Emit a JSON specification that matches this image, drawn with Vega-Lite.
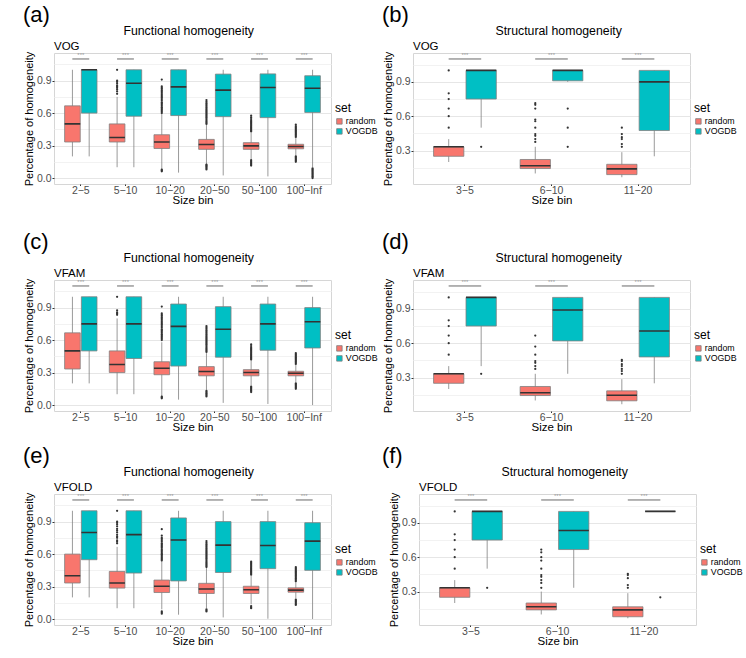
{
"$schema": "https://vega.github.io/schema/vega-lite/v6.json",
"padding": {"left": 22, "top": 3, "right": 0, "bottom": 0},
"background": "white",
"config": {
  "font": "Liberation Sans",
  "view": {"stroke": "#d6d6d6"},
  "title": {"fontWeight": "normal", "color": "#000000", "font": "Liberation Sans"},
  "axis": {"domain": false, "labelFontSize": 10.5, "labelColor": "#4d4d4d", "tickColor": "#333333", "tickSize": 2, "titleFontSize": 11.5, "titleFontWeight": "normal", "titleColor": "#000000", "gridColor": "#e6e6e6", "labelPadding": 1},
  "axisY": {"titlePadding": 2, "labelOverlap": false, "titleFontSize": 11},
  "axisX": {"titlePadding": -1, "labelAngle": 0, "labelPadding": -0.5, "tickSize": 1.5},
  "legend": {"titleFontSize": 12, "titleFontWeight": "normal", "labelFontSize": 8.8, "symbolType": "square", "symbolSize": 30, "rowPadding": 0, "titlePadding": 2, "symbolStrokeColor": "#7f7f7f", "symbolStrokeWidth": 0.8, "labelOffset": 2}
},
"datasets": {
"box": [
{"p":"a","bin":"2−5","set":"random","lo":0.2,"q1":0.333,"med":0.5,"q3":0.667,"hi":1.0},
{"p":"a","bin":"2−5","set":"VOGDB","lo":0.2,"q1":0.6,"med":1.0,"q3":1.0,"hi":1.0},
{"p":"a","bin":"5−10","set":"random","lo":0.1,"q1":0.333,"med":0.375,"q3":0.5,"hi":0.75},
{"p":"a","bin":"5−10","set":"VOGDB","lo":0.1,"q1":0.571,"med":0.875,"q3":1.0,"hi":1.0},
{"p":"a","bin":"10−20","set":"random","lo":0.083,"q1":0.273,"med":0.333,"q3":0.4,"hi":0.59},
{"p":"a","bin":"10−20","set":"VOGDB","lo":0.05,"q1":0.577,"med":0.842,"q3":1.0,"hi":1.0},
{"p":"a","bin":"20−50","set":"random","lo":0.13,"q1":0.265,"med":0.31,"q3":0.357,"hi":0.49},
{"p":"a","bin":"20−50","set":"VOGDB","lo":0.024,"q1":0.567,"med":0.812,"q3":0.96,"hi":1.0},
{"p":"a","bin":"50−100","set":"random","lo":0.172,"q1":0.265,"med":0.297,"q3":0.327,"hi":0.42},
{"p":"a","bin":"50−100","set":"VOGDB","lo":0.015,"q1":0.558,"med":0.836,"q3":0.962,"hi":1.0},
{"p":"a","bin":"100−Inf","set":"random","lo":0.207,"q1":0.27,"med":0.291,"q3":0.312,"hi":0.375},
{"p":"a","bin":"100−Inf","set":"VOGDB","lo":0.1,"q1":0.606,"med":0.83,"q3":0.945,"hi":1.0},
{"p":"c","bin":"2−5","set":"random","lo":0.2,"q1":0.333,"med":0.5,"q3":0.667,"hi":1.0},
{"p":"c","bin":"2−5","set":"VOGDB","lo":0.2,"q1":0.5,"med":0.75,"q3":1.0,"hi":1.0},
{"p":"c","bin":"5−10","set":"random","lo":0.1,"q1":0.3,"med":0.375,"q3":0.5,"hi":0.8},
{"p":"c","bin":"5−10","set":"VOGDB","lo":0.1,"q1":0.43,"med":0.75,"q3":1.0,"hi":1.0},
{"p":"c","bin":"10−20","set":"random","lo":0.083,"q1":0.28,"med":0.34,"q3":0.4,"hi":0.58},
{"p":"c","bin":"10−20","set":"VOGDB","lo":0.05,"q1":0.36,"med":0.727,"q3":0.933,"hi":1.0},
{"p":"c","bin":"20−50","set":"random","lo":0.14,"q1":0.27,"med":0.31,"q3":0.355,"hi":0.48},
{"p":"c","bin":"20−50","set":"VOGDB","lo":0.02,"q1":0.442,"med":0.7,"q3":0.909,"hi":1.0},
{"p":"c","bin":"50−100","set":"random","lo":0.18,"q1":0.27,"med":0.3,"q3":0.327,"hi":0.41},
{"p":"c","bin":"50−100","set":"VOGDB","lo":0.01,"q1":0.506,"med":0.75,"q3":0.933,"hi":1.0},
{"p":"c","bin":"100−Inf","set":"random","lo":0.21,"q1":0.27,"med":0.294,"q3":0.312,"hi":0.375},
{"p":"c","bin":"100−Inf","set":"VOGDB","lo":0.0,"q1":0.527,"med":0.77,"q3":0.9,"hi":1.0},
{"p":"e","bin":"2−5","set":"random","lo":0.2,"q1":0.333,"med":0.4,"q3":0.6,"hi":1.0},
{"p":"e","bin":"2−5","set":"VOGDB","lo":0.2,"q1":0.548,"med":0.8,"q3":1.0,"hi":1.0},
{"p":"e","bin":"5−10","set":"random","lo":0.1,"q1":0.286,"med":0.333,"q3":0.44,"hi":0.667},
{"p":"e","bin":"5−10","set":"VOGDB","lo":0.1,"q1":0.425,"med":0.78,"q3":1.0,"hi":1.0},
{"p":"e","bin":"10−20","set":"random","lo":0.09,"q1":0.245,"med":0.303,"q3":0.36,"hi":0.53},
{"p":"e","bin":"10−20","set":"VOGDB","lo":0.04,"q1":0.352,"med":0.73,"q3":0.934,"hi":1.0},
{"p":"e","bin":"20−50","set":"random","lo":0.1,"q1":0.236,"med":0.277,"q3":0.33,"hi":0.47},
{"p":"e","bin":"20−50","set":"VOGDB","lo":0.015,"q1":0.43,"med":0.683,"q3":0.9,"hi":1.0},
{"p":"e","bin":"50−100","set":"random","lo":0.136,"q1":0.236,"med":0.27,"q3":0.303,"hi":0.4},
{"p":"e","bin":"50−100","set":"VOGDB","lo":0.003,"q1":0.465,"med":0.68,"q3":0.9,"hi":1.0},
{"p":"e","bin":"100−Inf","set":"random","lo":0.19,"q1":0.248,"med":0.267,"q3":0.288,"hi":0.345},
{"p":"e","bin":"100−Inf","set":"VOGDB","lo":0.0,"q1":0.45,"med":0.72,"q3":0.89,"hi":1.0},
{"p":"b","bin":"3−5","set":"random","lo":0.2,"q1":0.25,"med":0.333,"q3":0.333,"hi":0.4},
{"p":"b","bin":"3−5","set":"VOGDB","lo":0.5,"q1":0.75,"med":1.0,"q3":1.0,"hi":1.0},
{"p":"b","bin":"6−10","set":"random","lo":0.1,"q1":0.143,"med":0.167,"q3":0.222,"hi":0.333},
{"p":"b","bin":"6−10","set":"VOGDB","lo":0.9,"q1":0.909,"med":1.0,"q3":1.0,"hi":1.0},
{"p":"b","bin":"11−20","set":"random","lo":0.067,"q1":0.09,"med":0.14,"q3":0.18,"hi":0.286},
{"p":"b","bin":"11−20","set":"VOGDB","lo":0.25,"q1":0.475,"med":0.9,"q3":1.0,"hi":1.0},
{"p":"d","bin":"3−5","set":"random","lo":0.2,"q1":0.25,"med":0.333,"q3":0.333,"hi":0.4},
{"p":"d","bin":"3−5","set":"VOGDB","lo":0.4,"q1":0.75,"med":1.0,"q3":1.0,"hi":1.0},
{"p":"d","bin":"6−10","set":"random","lo":0.1,"q1":0.143,"med":0.167,"q3":0.222,"hi":0.333},
{"p":"d","bin":"6−10","set":"VOGDB","lo":0.333,"q1":0.62,"med":0.89,"q3":1.0,"hi":1.0},
{"p":"d","bin":"11−20","set":"random","lo":0.067,"q1":0.097,"med":0.146,"q3":0.184,"hi":0.286},
{"p":"d","bin":"11−20","set":"VOGDB","lo":0.25,"q1":0.48,"med":0.706,"q3":1.0,"hi":1.0},
{"p":"f","bin":"3−5","set":"random","lo":0.2,"q1":0.25,"med":0.333,"q3":0.333,"hi":0.4},
{"p":"f","bin":"3−5","set":"VOGDB","lo":0.5,"q1":0.75,"med":1.0,"q3":1.0,"hi":1.0},
{"p":"f","bin":"6−10","set":"random","lo":0.1,"q1":0.14,"med":0.167,"q3":0.2,"hi":0.3},
{"p":"f","bin":"6−10","set":"VOGDB","lo":0.333,"q1":0.667,"med":0.833,"q3":1.0,"hi":1.0},
{"p":"f","bin":"11−20","set":"random","lo":0.067,"q1":0.08,"med":0.14,"q3":0.167,"hi":0.286},
{"p":"f","bin":"11−20","set":"VOGDB","lo":1.0,"q1":1.0,"med":1.0,"q3":1.0,"hi":1.0}
],
"out": [
{"p":"a","bin":"5−10","set":"random","v":[0.778,0.8,0.818,0.833,0.846,0.857,0.875,0.889,0.9,1.0]},
{"p":"a","bin":"10−20","set":"random","v":[0.062,0.07,0.077,0.6,0.612,0.625,0.636,0.647,0.655,0.667,0.68,0.692,0.7,0.714,0.727,0.74,0.75,0.762,0.773,0.786,0.8,0.812,0.824,0.833,0.846,0.91]},
{"p":"a","bin":"20−50","set":"random","v":[0.08,0.09,0.1,0.11,0.118,0.125,0.5,0.511,0.522,0.533,0.545,0.556,0.567,0.578,0.59,0.6,0.611,0.622,0.633,0.645,0.656,0.667,0.68,0.692,0.705,0.72]},
{"p":"a","bin":"50−100","set":"random","v":[0.115,0.125,0.135,0.145,0.155,0.165,0.43,0.44,0.45,0.46,0.47,0.48,0.49,0.5,0.51,0.52,0.53,0.545,0.56,0.576]},
{"p":"a","bin":"100−Inf","set":"random","v":[0.15,0.16,0.17,0.18,0.19,0.2,0.38,0.39,0.4,0.41,0.42,0.43,0.44,0.45,0.46,0.47,0.48,0.494]},
{"p":"a","bin":"100−Inf","set":"VOGDB","v":[0.0,0.01,0.02,0.03,0.04,0.05,0.06,0.07,0.08,0.09]},
{"p":"c","bin":"5−10","set":"random","v":[0.833,0.846,0.857,0.875,1.0]},
{"p":"c","bin":"10−20","set":"random","v":[0.062,0.07,0.077,0.6,0.612,0.625,0.636,0.647,0.655,0.667,0.68,0.692,0.7,0.714,0.727,0.74,0.75,0.762,0.773,0.786,0.8,0.812,0.824,0.833,0.846,0.91]},
{"p":"c","bin":"20−50","set":"random","v":[0.08,0.09,0.1,0.11,0.12,0.13,0.49,0.5,0.511,0.522,0.533,0.545,0.556,0.567,0.578,0.59,0.6,0.611,0.622,0.633,0.645,0.656,0.667,0.68,0.692,0.705,0.718,0.73]},
{"p":"c","bin":"50−100","set":"random","v":[0.12,0.13,0.14,0.15,0.16,0.17,0.42,0.43,0.44,0.45,0.46,0.47,0.48,0.49,0.5,0.51,0.52,0.53,0.545,0.56]},
{"p":"c","bin":"100−Inf","set":"random","v":[0.15,0.16,0.17,0.18,0.19,0.2,0.38,0.39,0.4,0.41,0.42,0.43,0.44,0.45,0.46,0.47,0.48]},
{"p":"e","bin":"5−10","set":"random","v":[0.7,0.714,0.727,0.75,0.762,0.778,0.8,0.818,0.833,0.857,0.875,0.889,0.9,1.0]},
{"p":"e","bin":"10−20","set":"random","v":[0.05,0.06,0.07,0.54,0.55,0.56,0.571,0.583,0.594,0.6,0.611,0.625,0.636,0.647,0.66,0.67,0.68,0.692,0.7,0.714,0.727,0.74,0.75,0.77,0.83]},
{"p":"e","bin":"20−50","set":"random","v":[0.07,0.08,0.09,0.48,0.49,0.5,0.511,0.522,0.533,0.545,0.556,0.567,0.578,0.59,0.6,0.611,0.622,0.633,0.645,0.656,0.667,0.68,0.692,0.705,0.72]},
{"p":"e","bin":"50−100","set":"random","v":[0.1,0.11,0.12,0.41,0.42,0.43,0.44,0.45,0.46,0.47,0.48,0.49,0.5,0.51,0.52,0.53]},
{"p":"e","bin":"100−Inf","set":"random","v":[0.13,0.14,0.15,0.16,0.17,0.18,0.35,0.36,0.37,0.38,0.39,0.4,0.41,0.42,0.43,0.44,0.45,0.46,0.47,0.48]},
{"p":"b","bin":"3−5","set":"random","v":[0.5,0.6,0.667,0.75,0.8,1.0]},
{"p":"b","bin":"3−5","set":"VOGDB","v":[0.333]},
{"p":"b","bin":"6−10","set":"random","v":[0.375,0.4,0.429,0.444,0.5,0.556,0.571,0.667,0.7,0.714]},
{"p":"b","bin":"6−10","set":"VOGDB","v":[0.333,0.5,0.667]},
{"p":"b","bin":"11−20","set":"random","v":[0.333,0.357,0.4,0.417,0.444,0.5]},
{"p":"d","bin":"3−5","set":"random","v":[0.5,0.6,0.667,0.75,0.8,1.0]},
{"p":"d","bin":"3−5","set":"VOGDB","v":[0.333]},
{"p":"d","bin":"6−10","set":"random","v":[0.375,0.4,0.429,0.444,0.5,0.571,0.667]},
{"p":"d","bin":"11−20","set":"random","v":[0.333,0.357,0.375,0.4,0.417,0.444,0.455]},
{"p":"f","bin":"3−5","set":"random","v":[0.5,0.6,0.667,0.75,0.8,1.0]},
{"p":"f","bin":"3−5","set":"VOGDB","v":[0.333]},
{"p":"f","bin":"6−10","set":"random","v":[0.333,0.375,0.4,0.429,0.444,0.5,0.571,0.6,0.643,0.667]},
{"p":"f","bin":"11−20","set":"random","v":[0.333,0.357,0.417,0.444,0.455]},
{"p":"f","bin":"11−20","set":"VOGDB","v":[0.25]}
]
},
"spacing": 23,
"resolve": {"scale": {"color": "independent", "xOffset": "independent"}, "legend": {"color": "independent"}},
"vconcat": [
{
 "spacing": 2,
 "resolve": {"scale": {"color": "independent", "xOffset": "independent"}, "legend": {"color": "independent"}},
 "hconcat": [
  {"title": {"text": "(a)", "anchor": "start", "fontSize": 22, "offset": -2},
   "resolve": {"scale": {"color": "independent", "xOffset": "independent"}, "legend": {"color": "independent"}},
   "vconcat": [{
    "title": {"text": "Functional homogeneity", "anchor": "middle", "fontSize": 12.3, "dx": -12, "offset": 3},
    "resolve": {"scale": {"color": "independent", "xOffset": "independent"}, "legend": {"color": "independent"}},
    "vconcat": [{
     "title": {"text": "VOG", "anchor": "start", "frame": "group", "fontSize": 11.5, "offset": -1},
     "width": 277, "height": 131,
     "resolve": {"axis": {"y": "independent"}},
     "encoding": {"x": {"field": "bin", "type": "nominal", "title": "Size bin", "scale": {"domain": ["2−5","5−10","10−20","20−50","50−100","100−Inf"], "paddingInner": 0, "paddingOuter": 0.1}, "axis": {"bandPosition": 0.5}}},
     "layer": [
      {"data": {"name": "box"}, "transform": [{"filter": "datum.p=='a'"}], "mark": {"type": "rule", "color": "#808080", "strokeWidth": 0.8},
       "encoding": {"xOffset": {"field": "set", "type": "nominal", "scale": {"domain": ["random","VOGDB"], "paddingInner": 0.067, "paddingOuter": 0.367}},
        "y": {"field": "lo", "type": "quantitative", "title": "Percentage of homogeneity", "scale": {"domain": [-0.055, 1.155], "nice": false, "zero": false},
         "axis": {"values": [0, 0.3, 0.6, 0.9], "tickCount": 20, "labelOverlap": false, "labelSeparation": -1000, "labelBound": false, "format": ".1f", "gridColor": "#e6e6e6"}},
        "y2": {"field": "hi"}}},
      {"data": {"name": "box"}, "transform": [{"filter": "datum.p=='a'"}], "mark": {"type": "tick", "opacity": 0},
       "encoding": {"y": {"field": "med", "type": "quantitative", "axis": {"orient": "right", "values": [0.15, 0.45, 0.75, 1.05], "tickCount": 20, "labels": false, "ticks": false, "domain": false, "title": null, "grid": true, "gridColor": "#f2f2f2"}}}},
      {"data": {"name": "box"}, "transform": [{"filter": "datum.p=='a'"}], "mark": {"type": "bar", "stroke": "#808080", "strokeWidth": 0.8},
       "encoding": {"xOffset": {"field": "set", "type": "nominal"}, "y": {"field": "q1", "type": "quantitative", "axis": null}, "y2": {"field": "q3"},
        "color": {"field": "set", "type": "nominal", "title": "set", "scale": {"domain": ["random","VOGDB"], "range": ["#F8766D","#00BFC4"]}, "legend": {"orient": "none", "legendX": 281, "legendY": 50}}}},
      {"data": {"name": "box"}, "transform": [{"filter": "datum.p=='a'"}], "mark": {"type": "bar", "fillOpacity": 0, "stroke": "#333333", "strokeWidth": 1.6},
       "encoding": {"xOffset": {"field": "set", "type": "nominal"}, "y": {"field": "med", "type": "quantitative", "axis": null}, "y2": {"field": "med"}}},
      {"data": {"name": "out"}, "transform": [{"filter": "datum.p=='a'"}, {"flatten": ["v"]}], "mark": {"type": "point", "filled": true, "size": 5, "color": "#333333", "opacity": 1},
       "encoding": {"xOffset": {"field": "set", "type": "nominal"}, "y": {"field": "v", "type": "quantitative", "axis": null}}},
      {"data": {"name": "box"}, "transform": [{"filter": "datum.p=='a' && datum.set=='random'"}], "mark": {"type": "bar", "width": {"band": 0.375}, "fillOpacity": 0, "stroke": "#9a9a9a", "strokeWidth": 1},
       "encoding": {"y": {"datum": 1.1, "axis": null}, "y2": {"datum": 1.1}}},
      {"data": {"name": "box"}, "transform": [{"filter": "datum.p=='a' && datum.set=='random'"}], "mark": {"type": "text", "text": "***", "fontSize": 6, "color": "#9a9a9a", "baseline": "bottom", "dy": -1},
       "encoding": {"y": {"datum": 1.1, "axis": null}}}
     ]
    }]
   }]
  },
  {"title": {"text": "(b)", "anchor": "start", "fontSize": 22, "offset": -2},
   "resolve": {"scale": {"color": "independent", "xOffset": "independent"}, "legend": {"color": "independent"}},
   "vconcat": [{
    "title": {"text": "Structural homogeneity", "anchor": "middle", "fontSize": 12.3, "dx": -1, "offset": 3},
    "resolve": {"scale": {"color": "independent", "xOffset": "independent"}, "legend": {"color": "independent"}},
    "vconcat": [{
     "title": {"text": "VOG", "anchor": "start", "frame": "group", "fontSize": 11.5, "offset": -1},
     "width": 277, "height": 131,
     "resolve": {"axis": {"y": "independent"}},
     "encoding": {"x": {"field": "bin", "type": "nominal", "title": "Size bin", "scale": {"domain": ["3−5","6−10","11−20"], "paddingInner": 0, "paddingOuter": 0.1}, "axis": {"bandPosition": 0.5}}},
     "layer": [
      {"data": {"name": "box"}, "transform": [{"filter": "datum.p=='b'"}], "mark": {"type": "rule", "color": "#808080", "strokeWidth": 0.8},
       "encoding": {"xOffset": {"field": "set", "type": "nominal", "scale": {"domain": ["random","VOGDB"], "paddingInner": 0.067, "paddingOuter": 0.367}},
        "y": {"field": "lo", "type": "quantitative", "title": "Percentage of homogeneity", "scale": {"domain": [0.008, 1.152], "nice": false, "zero": false},
         "axis": {"values": [0.3, 0.6, 0.9], "tickCount": 20, "labelOverlap": false, "labelSeparation": -1000, "labelBound": false, "format": ".1f", "gridColor": "#e6e6e6"}},
        "y2": {"field": "hi"}}},
      {"data": {"name": "box"}, "transform": [{"filter": "datum.p=='b'"}], "mark": {"type": "tick", "opacity": 0},
       "encoding": {"y": {"field": "med", "type": "quantitative", "axis": {"orient": "right", "values": [0.15, 0.45, 0.75, 1.05], "tickCount": 20, "labels": false, "ticks": false, "domain": false, "title": null, "grid": true, "gridColor": "#f2f2f2"}}}},
      {"data": {"name": "box"}, "transform": [{"filter": "datum.p=='b'"}], "mark": {"type": "bar", "stroke": "#808080", "strokeWidth": 0.8},
       "encoding": {"xOffset": {"field": "set", "type": "nominal"}, "y": {"field": "q1", "type": "quantitative", "axis": null}, "y2": {"field": "q3"},
        "color": {"field": "set", "type": "nominal", "title": "set", "scale": {"domain": ["random","VOGDB"], "range": ["#F8766D","#00BFC4"]}, "legend": {"orient": "none", "legendX": 281, "legendY": 50}}}},
      {"data": {"name": "box"}, "transform": [{"filter": "datum.p=='b'"}], "mark": {"type": "bar", "fillOpacity": 0, "stroke": "#333333", "strokeWidth": 1.6},
       "encoding": {"xOffset": {"field": "set", "type": "nominal"}, "y": {"field": "med", "type": "quantitative", "axis": null}, "y2": {"field": "med"}}},
      {"data": {"name": "out"}, "transform": [{"filter": "datum.p=='b'"}, {"flatten": ["v"]}], "mark": {"type": "point", "filled": true, "size": 5, "color": "#333333", "opacity": 1},
       "encoding": {"xOffset": {"field": "set", "type": "nominal"}, "y": {"field": "v", "type": "quantitative", "axis": null}}},
      {"data": {"name": "box"}, "transform": [{"filter": "datum.p=='b' && datum.set=='random'"}], "mark": {"type": "bar", "width": {"band": 0.375}, "fillOpacity": 0, "stroke": "#9a9a9a", "strokeWidth": 1},
       "encoding": {"y": {"datum": 1.1, "axis": null}, "y2": {"datum": 1.1}}},
      {"data": {"name": "box"}, "transform": [{"filter": "datum.p=='b' && datum.set=='random'"}], "mark": {"type": "text", "text": "***", "fontSize": 6, "color": "#9a9a9a", "baseline": "bottom", "dy": -1},
       "encoding": {"y": {"datum": 1.1, "axis": null}}}
     ]
    }]
   }]
  }
 ]
},
{
 "spacing": 10,
 "resolve": {"scale": {"color": "independent", "xOffset": "independent"}, "legend": {"color": "independent"}},
 "vconcat": [
 {
 "spacing": 2,
 "resolve": {"scale": {"color": "independent", "xOffset": "independent"}, "legend": {"color": "independent"}},
 "hconcat": [
  {"title": {"text": "(c)", "anchor": "start", "fontSize": 22, "offset": -2},
   "resolve": {"scale": {"color": "independent", "xOffset": "independent"}, "legend": {"color": "independent"}},
   "vconcat": [{
    "title": {"text": "Functional homogeneity", "anchor": "middle", "fontSize": 12.3, "dx": -12, "offset": 3},
    "resolve": {"scale": {"color": "independent", "xOffset": "independent"}, "legend": {"color": "independent"}},
    "vconcat": [{
     "title": {"text": "VFAM", "anchor": "start", "frame": "group", "fontSize": 11.5, "offset": -1},
     "width": 277, "height": 131,
     "resolve": {"axis": {"y": "independent"}},
     "encoding": {"x": {"field": "bin", "type": "nominal", "title": "Size bin", "scale": {"domain": ["2−5","5−10","10−20","20−50","50−100","100−Inf"], "paddingInner": 0, "paddingOuter": 0.1}, "axis": {"bandPosition": 0.5}}},
     "layer": [
      {"data": {"name": "box"}, "transform": [{"filter": "datum.p=='c'"}], "mark": {"type": "rule", "color": "#808080", "strokeWidth": 0.8},
       "encoding": {"xOffset": {"field": "set", "type": "nominal", "scale": {"domain": ["random","VOGDB"], "paddingInner": 0.067, "paddingOuter": 0.367}},
        "y": {"field": "lo", "type": "quantitative", "title": "Percentage of homogeneity", "scale": {"domain": [-0.055, 1.155], "nice": false, "zero": false},
         "axis": {"values": [0, 0.3, 0.6, 0.9], "tickCount": 20, "labelOverlap": false, "labelSeparation": -1000, "labelBound": false, "format": ".1f", "gridColor": "#e6e6e6"}},
        "y2": {"field": "hi"}}},
      {"data": {"name": "box"}, "transform": [{"filter": "datum.p=='c'"}], "mark": {"type": "tick", "opacity": 0},
       "encoding": {"y": {"field": "med", "type": "quantitative", "axis": {"orient": "right", "values": [0.15, 0.45, 0.75, 1.05], "tickCount": 20, "labels": false, "ticks": false, "domain": false, "title": null, "grid": true, "gridColor": "#f2f2f2"}}}},
      {"data": {"name": "box"}, "transform": [{"filter": "datum.p=='c'"}], "mark": {"type": "bar", "stroke": "#808080", "strokeWidth": 0.8},
       "encoding": {"xOffset": {"field": "set", "type": "nominal"}, "y": {"field": "q1", "type": "quantitative", "axis": null}, "y2": {"field": "q3"},
        "color": {"field": "set", "type": "nominal", "title": "set", "scale": {"domain": ["random","VOGDB"], "range": ["#F8766D","#00BFC4"]}, "legend": {"orient": "none", "legendX": 281, "legendY": 50}}}},
      {"data": {"name": "box"}, "transform": [{"filter": "datum.p=='c'"}], "mark": {"type": "bar", "fillOpacity": 0, "stroke": "#333333", "strokeWidth": 1.6},
       "encoding": {"xOffset": {"field": "set", "type": "nominal"}, "y": {"field": "med", "type": "quantitative", "axis": null}, "y2": {"field": "med"}}},
      {"data": {"name": "out"}, "transform": [{"filter": "datum.p=='c'"}, {"flatten": ["v"]}], "mark": {"type": "point", "filled": true, "size": 5, "color": "#333333", "opacity": 1},
       "encoding": {"xOffset": {"field": "set", "type": "nominal"}, "y": {"field": "v", "type": "quantitative", "axis": null}}},
      {"data": {"name": "box"}, "transform": [{"filter": "datum.p=='c' && datum.set=='random'"}], "mark": {"type": "bar", "width": {"band": 0.375}, "fillOpacity": 0, "stroke": "#9a9a9a", "strokeWidth": 1},
       "encoding": {"y": {"datum": 1.1, "axis": null}, "y2": {"datum": 1.1}}},
      {"data": {"name": "box"}, "transform": [{"filter": "datum.p=='c' && datum.set=='random'"}], "mark": {"type": "text", "text": "***", "fontSize": 6, "color": "#9a9a9a", "baseline": "bottom", "dy": -1},
       "encoding": {"y": {"datum": 1.1, "axis": null}}}
     ]
    }]
   }]
  },
  {"title": {"text": "(d)", "anchor": "start", "fontSize": 22, "offset": -2},
   "resolve": {"scale": {"color": "independent", "xOffset": "independent"}, "legend": {"color": "independent"}},
   "vconcat": [{
    "title": {"text": "Structural homogeneity", "anchor": "middle", "fontSize": 12.3, "dx": -1, "offset": 3},
    "resolve": {"scale": {"color": "independent", "xOffset": "independent"}, "legend": {"color": "independent"}},
    "vconcat": [{
     "title": {"text": "VFAM", "anchor": "start", "frame": "group", "fontSize": 11.5, "offset": -1},
     "width": 277, "height": 131,
     "resolve": {"axis": {"y": "independent"}},
     "encoding": {"x": {"field": "bin", "type": "nominal", "title": "Size bin", "scale": {"domain": ["3−5","6−10","11−20"], "paddingInner": 0, "paddingOuter": 0.1}, "axis": {"bandPosition": 0.5}}},
     "layer": [
      {"data": {"name": "box"}, "transform": [{"filter": "datum.p=='d'"}], "mark": {"type": "rule", "color": "#808080", "strokeWidth": 0.8},
       "encoding": {"xOffset": {"field": "set", "type": "nominal", "scale": {"domain": ["random","VOGDB"], "paddingInner": 0.067, "paddingOuter": 0.367}},
        "y": {"field": "lo", "type": "quantitative", "title": "Percentage of homogeneity", "scale": {"domain": [0.008, 1.152], "nice": false, "zero": false},
         "axis": {"values": [0.3, 0.6, 0.9], "tickCount": 20, "labelOverlap": false, "labelSeparation": -1000, "labelBound": false, "format": ".1f", "gridColor": "#e6e6e6"}},
        "y2": {"field": "hi"}}},
      {"data": {"name": "box"}, "transform": [{"filter": "datum.p=='d'"}], "mark": {"type": "tick", "opacity": 0},
       "encoding": {"y": {"field": "med", "type": "quantitative", "axis": {"orient": "right", "values": [0.15, 0.45, 0.75, 1.05], "tickCount": 20, "labels": false, "ticks": false, "domain": false, "title": null, "grid": true, "gridColor": "#f2f2f2"}}}},
      {"data": {"name": "box"}, "transform": [{"filter": "datum.p=='d'"}], "mark": {"type": "bar", "stroke": "#808080", "strokeWidth": 0.8},
       "encoding": {"xOffset": {"field": "set", "type": "nominal"}, "y": {"field": "q1", "type": "quantitative", "axis": null}, "y2": {"field": "q3"},
        "color": {"field": "set", "type": "nominal", "title": "set", "scale": {"domain": ["random","VOGDB"], "range": ["#F8766D","#00BFC4"]}, "legend": {"orient": "none", "legendX": 281, "legendY": 50}}}},
      {"data": {"name": "box"}, "transform": [{"filter": "datum.p=='d'"}], "mark": {"type": "bar", "fillOpacity": 0, "stroke": "#333333", "strokeWidth": 1.6},
       "encoding": {"xOffset": {"field": "set", "type": "nominal"}, "y": {"field": "med", "type": "quantitative", "axis": null}, "y2": {"field": "med"}}},
      {"data": {"name": "out"}, "transform": [{"filter": "datum.p=='d'"}, {"flatten": ["v"]}], "mark": {"type": "point", "filled": true, "size": 5, "color": "#333333", "opacity": 1},
       "encoding": {"xOffset": {"field": "set", "type": "nominal"}, "y": {"field": "v", "type": "quantitative", "axis": null}}},
      {"data": {"name": "box"}, "transform": [{"filter": "datum.p=='d' && datum.set=='random'"}], "mark": {"type": "bar", "width": {"band": 0.375}, "fillOpacity": 0, "stroke": "#9a9a9a", "strokeWidth": 1},
       "encoding": {"y": {"datum": 1.1, "axis": null}, "y2": {"datum": 1.1}}},
      {"data": {"name": "box"}, "transform": [{"filter": "datum.p=='d' && datum.set=='random'"}], "mark": {"type": "text", "text": "***", "fontSize": 6, "color": "#9a9a9a", "baseline": "bottom", "dy": -1},
       "encoding": {"y": {"datum": 1.1, "axis": null}}}
     ]
    }]
   }]
  }
 ]
 },
 {
 "spacing": 2,
 "resolve": {"scale": {"color": "independent", "xOffset": "independent"}, "legend": {"color": "independent"}},
 "hconcat": [
  {"title": {"text": "(e)", "anchor": "start", "fontSize": 22, "offset": -2},
   "resolve": {"scale": {"color": "independent", "xOffset": "independent"}, "legend": {"color": "independent"}},
   "vconcat": [{
    "title": {"text": "Functional homogeneity", "anchor": "middle", "fontSize": 12.3, "dx": -12, "offset": 3},
    "resolve": {"scale": {"color": "independent", "xOffset": "independent"}, "legend": {"color": "independent"}},
    "vconcat": [{
     "title": {"text": "VFOLD", "anchor": "start", "frame": "group", "fontSize": 11.5, "offset": -1},
     "width": 277, "height": 131,
     "resolve": {"axis": {"y": "independent"}},
     "encoding": {"x": {"field": "bin", "type": "nominal", "title": "Size bin", "scale": {"domain": ["2−5","5−10","10−20","20−50","50−100","100−Inf"], "paddingInner": 0, "paddingOuter": 0.1}, "axis": {"bandPosition": 0.5}}},
     "layer": [
      {"data": {"name": "box"}, "transform": [{"filter": "datum.p=='e'"}], "mark": {"type": "rule", "color": "#808080", "strokeWidth": 0.8},
       "encoding": {"xOffset": {"field": "set", "type": "nominal", "scale": {"domain": ["random","VOGDB"], "paddingInner": 0.067, "paddingOuter": 0.367}},
        "y": {"field": "lo", "type": "quantitative", "title": "Percentage of homogeneity", "scale": {"domain": [-0.055, 1.155], "nice": false, "zero": false},
         "axis": {"values": [0, 0.3, 0.6, 0.9], "tickCount": 20, "labelOverlap": false, "labelSeparation": -1000, "labelBound": false, "format": ".1f", "gridColor": "#e6e6e6"}},
        "y2": {"field": "hi"}}},
      {"data": {"name": "box"}, "transform": [{"filter": "datum.p=='e'"}], "mark": {"type": "tick", "opacity": 0},
       "encoding": {"y": {"field": "med", "type": "quantitative", "axis": {"orient": "right", "values": [0.15, 0.45, 0.75, 1.05], "tickCount": 20, "labels": false, "ticks": false, "domain": false, "title": null, "grid": true, "gridColor": "#f2f2f2"}}}},
      {"data": {"name": "box"}, "transform": [{"filter": "datum.p=='e'"}], "mark": {"type": "bar", "stroke": "#808080", "strokeWidth": 0.8},
       "encoding": {"xOffset": {"field": "set", "type": "nominal"}, "y": {"field": "q1", "type": "quantitative", "axis": null}, "y2": {"field": "q3"},
        "color": {"field": "set", "type": "nominal", "title": "set", "scale": {"domain": ["random","VOGDB"], "range": ["#F8766D","#00BFC4"]}, "legend": {"orient": "none", "legendX": 281, "legendY": 50}}}},
      {"data": {"name": "box"}, "transform": [{"filter": "datum.p=='e'"}], "mark": {"type": "bar", "fillOpacity": 0, "stroke": "#333333", "strokeWidth": 1.6},
       "encoding": {"xOffset": {"field": "set", "type": "nominal"}, "y": {"field": "med", "type": "quantitative", "axis": null}, "y2": {"field": "med"}}},
      {"data": {"name": "out"}, "transform": [{"filter": "datum.p=='e'"}, {"flatten": ["v"]}], "mark": {"type": "point", "filled": true, "size": 5, "color": "#333333", "opacity": 1},
       "encoding": {"xOffset": {"field": "set", "type": "nominal"}, "y": {"field": "v", "type": "quantitative", "axis": null}}},
      {"data": {"name": "box"}, "transform": [{"filter": "datum.p=='e' && datum.set=='random'"}], "mark": {"type": "bar", "width": {"band": 0.375}, "fillOpacity": 0, "stroke": "#9a9a9a", "strokeWidth": 1},
       "encoding": {"y": {"datum": 1.1, "axis": null}, "y2": {"datum": 1.1}}},
      {"data": {"name": "box"}, "transform": [{"filter": "datum.p=='e' && datum.set=='random'"}], "mark": {"type": "text", "text": "***", "fontSize": 6, "color": "#9a9a9a", "baseline": "bottom", "dy": -1},
       "encoding": {"y": {"datum": 1.1, "axis": null}}}
     ]
    }]
   }]
  },
  {"title": {"text": "(f)", "anchor": "start", "fontSize": 22, "offset": -2, "dx": -6},
   "resolve": {"scale": {"color": "independent", "xOffset": "independent"}, "legend": {"color": "independent"}},
   "vconcat": [{
    "title": {"text": "Structural homogeneity", "anchor": "middle", "fontSize": 12.3, "dx": -1, "offset": 3},
    "resolve": {"scale": {"color": "independent", "xOffset": "independent"}, "legend": {"color": "independent"}},
    "vconcat": [{
     "title": {"text": "VFOLD", "anchor": "start", "frame": "group", "fontSize": 11.5, "offset": -1},
     "width": 277, "height": 131,
     "resolve": {"axis": {"y": "independent"}},
     "encoding": {"x": {"field": "bin", "type": "nominal", "title": "Size bin", "scale": {"domain": ["3−5","6−10","11−20"], "paddingInner": 0, "paddingOuter": 0.1}, "axis": {"bandPosition": 0.5}}},
     "layer": [
      {"data": {"name": "box"}, "transform": [{"filter": "datum.p=='f'"}], "mark": {"type": "rule", "color": "#808080", "strokeWidth": 0.8},
       "encoding": {"xOffset": {"field": "set", "type": "nominal", "scale": {"domain": ["random","VOGDB"], "paddingInner": 0.067, "paddingOuter": 0.367}},
        "y": {"field": "lo", "type": "quantitative", "title": "Percentage of homogeneity", "scale": {"domain": [0.008, 1.152], "nice": false, "zero": false},
         "axis": {"values": [0.3, 0.6, 0.9], "tickCount": 20, "labelOverlap": false, "labelSeparation": -1000, "labelBound": false, "format": ".1f", "gridColor": "#e6e6e6"}},
        "y2": {"field": "hi"}}},
      {"data": {"name": "box"}, "transform": [{"filter": "datum.p=='f'"}], "mark": {"type": "tick", "opacity": 0},
       "encoding": {"y": {"field": "med", "type": "quantitative", "axis": {"orient": "right", "values": [0.15, 0.45, 0.75, 1.05], "tickCount": 20, "labels": false, "ticks": false, "domain": false, "title": null, "grid": true, "gridColor": "#f2f2f2"}}}},
      {"data": {"name": "box"}, "transform": [{"filter": "datum.p=='f'"}], "mark": {"type": "bar", "stroke": "#808080", "strokeWidth": 0.8},
       "encoding": {"xOffset": {"field": "set", "type": "nominal"}, "y": {"field": "q1", "type": "quantitative", "axis": null}, "y2": {"field": "q3"},
        "color": {"field": "set", "type": "nominal", "title": "set", "scale": {"domain": ["random","VOGDB"], "range": ["#F8766D","#00BFC4"]}, "legend": {"orient": "none", "legendX": 281, "legendY": 50}}}},
      {"data": {"name": "box"}, "transform": [{"filter": "datum.p=='f'"}], "mark": {"type": "bar", "fillOpacity": 0, "stroke": "#333333", "strokeWidth": 1.6},
       "encoding": {"xOffset": {"field": "set", "type": "nominal"}, "y": {"field": "med", "type": "quantitative", "axis": null}, "y2": {"field": "med"}}},
      {"data": {"name": "out"}, "transform": [{"filter": "datum.p=='f'"}, {"flatten": ["v"]}], "mark": {"type": "point", "filled": true, "size": 5, "color": "#333333", "opacity": 1},
       "encoding": {"xOffset": {"field": "set", "type": "nominal"}, "y": {"field": "v", "type": "quantitative", "axis": null}}},
      {"data": {"name": "box"}, "transform": [{"filter": "datum.p=='f' && datum.set=='random'"}], "mark": {"type": "bar", "width": {"band": 0.375}, "fillOpacity": 0, "stroke": "#9a9a9a", "strokeWidth": 1},
       "encoding": {"y": {"datum": 1.1, "axis": null}, "y2": {"datum": 1.1}}},
      {"data": {"name": "box"}, "transform": [{"filter": "datum.p=='f' && datum.set=='random'"}], "mark": {"type": "text", "text": "***", "fontSize": 6, "color": "#9a9a9a", "baseline": "bottom", "dy": -1},
       "encoding": {"y": {"datum": 1.1, "axis": null}}}
     ]
    }]
   }]
  }
 ]
 }
 ]
}
]
}
